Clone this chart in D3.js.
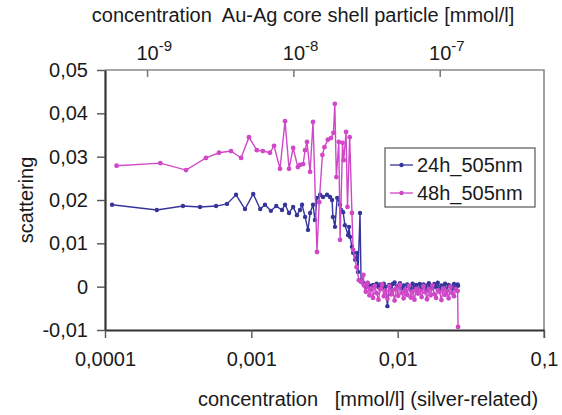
<!DOCTYPE html>
<html><head><meta charset="utf-8">
<script src="https://cdn.jsdelivr.net/npm/d3@7/dist/d3.min.js"></script>
<style>
body{margin:0;background:#fff;}
text{font-family:"Liberation Sans",Arial,sans-serif;fill:#1a1a1a;}
</style></head>
<body><svg id="c" width="562" height="415"></svg>
<script>
// ---- data ----
const xTickValues = [0.0001, 0.001, 0.01, 0.1];
const xTickLabels = ["0,0001", "0,001", "0,01", "0,1"];
const yTickValues = [-0.01, 0, 0.01, 0.02, 0.03, 0.04, 0.05];
const yTickLabels = ["-0,01", "0", "0,01", "0,02", "0,03", "0,04", "0,05"];
const topDomain = [5.16e-10, 5.16e-7];
const topTickValues = [1e-9, 1e-8, 1e-7];
const topTickExps = ["-9", "-8", "-7"];
const seriesNames = ["24h_505nm", "48h_505nm"];

// shared concentrations of the plateau region (mmol/l)
const xPlateau = [5.89e-3,6.06e-3,6.23e-3,6.41e-3,6.60e-3,6.79e-3,6.98e-3,7.18e-3,7.39e-3,7.60e-3,
  7.82e-3,8.04e-3,8.27e-3,8.51e-3,8.76e-3,9.01e-3,9.27e-3,9.53e-3,9.81e-3,1.009e-2,
  1.038e-2,1.068e-2,1.098e-2,1.130e-2,1.162e-2,1.196e-2,1.230e-2,1.265e-2,1.302e-2,1.339e-2,
  1.378e-2,1.417e-2,1.458e-2,1.500e-2,1.543e-2,1.587e-2,1.633e-2,1.680e-2,1.728e-2,1.778e-2,
  1.829e-2,1.881e-2,1.935e-2,1.991e-2,2.048e-2,2.107e-2,2.167e-2,2.230e-2,2.294e-2,2.359e-2,
  2.427e-2,2.497e-2,2.569e-2,2.587e-2];

const x24head = [1.117e-4,2.26e-4,3.41e-4,4.46e-4,5.74e-4,6.82e-4,7.86e-4,9.05e-4,1.03e-3,1.15e-3,1.24e-3,1.36e-3,1.48e-3,1.62e-3,1.70e-3,1.81e-3,1.93e-3,2.05e-3,2.15e-3,
  2.22e-3,2.33e-3,2.44e-3,2.52e-3,2.64e-3,2.72e-3,2.81e-3,2.95e-3,3.09e-3,3.29e-3,3.45e-3,3.56e-3,3.61e-3,3.73e-3,3.86e-3,4.04e-3,4.11e-3,4.24e-3,4.36e-3,4.58e-3,4.65e-3,4.73e-3,4.87e-3,4.96e-3,5.12e-3,5.27e-3,5.36e-3,5.53e-3,5.62e-3,5.80e-3];
const y24head = [0.0189,0.0177,0.0186,0.0184,0.0186,0.0191,0.0212,0.0179,0.0214,0.0179,0.0189,0.0175,0.0186,0.0177,0.0189,0.0170,0.0184,0.0165,0.0177,
  0.0189,0.0161,0.0131,0.0170,0.0189,0.0154,0.0205,0.0212,0.0207,0.0212,0.0207,0.0200,0.0161,0.0138,0.0205,0.0189,0.0177,0.0172,0.0142,0.0119,0.0138,0.0115,0.0092,0.0078,0.0062,0.0078,0.0034,0.0170,0.0015,0.0009];
const y24plateau = [0.0006,-0.0002,0.0009,0.0003,-0.0006,0.0004,0.0001,0.0007,-0.0001,0.0005,
  -0.0003,0.0007,0.0000,-0.0045,0.0004,-0.0002,0.0006,0.0010,-0.0005,0.0002,
  0.0008,-0.0004,0.0003,-0.0009,0.0005,0.0001,-0.0006,0.0007,-0.0002,0.0004,
  -0.0010,0.0006,-0.0003,0.0005,0.0002,-0.0007,0.0008,0.0000,-0.0004,0.0006,
  -0.0001,0.0009,-0.0006,0.0003,-0.0002,0.0007,-0.0008,0.0004,0.0001,-0.0005,
  0.0006,-0.0003,0.0005,0.0002];

const x48head = [1.20e-4,2.39e-4,3.58e-4,4.90e-4,6.01e-4,7.26e-4,8.51e-4,9.64e-4,1.09e-3,1.20e-3,1.34e-3,1.43e-3,1.57e-3,1.70e-3,1.81e-3,1.93e-3,2.08e-3,
  2.15e-3,2.26e-3,2.33e-3,2.40e-3,2.52e-3,2.64e-3,2.81e-3,2.91e-3,3.06e-3,3.16e-3,3.33e-3,3.50e-3,3.64e-3,3.72e-3,3.81e-3,3.96e-3,4.04e-3,4.20e-3,4.28e-3,4.44e-3,4.54e-3,4.70e-3,4.87e-3,4.96e-3,5.24e-3,5.43e-3,5.62e-3,5.83e-3];
const y48head = [0.0279,0.0285,0.0269,0.0297,0.0309,0.0313,0.0297,0.0345,0.0315,0.0313,0.0309,0.0325,0.0272,0.0382,0.0272,0.0320,0.0276,
  0.0281,0.0283,0.0315,0.0334,0.0265,0.0380,0.0080,0.0195,0.0304,0.0322,0.0339,0.0343,0.0355,0.0422,0.0253,0.0334,0.0108,0.0332,0.0292,0.0357,0.0184,0.0345,0.0170,0.0085,0.0045,0.0015,0.0011,0.0027];
const y48plateau = [0.0003,-0.0012,0.0008,-0.0020,-0.0004,-0.0026,0.0002,-0.0015,-0.0030,-0.0006,
  0.0005,-0.0022,-0.0010,-0.0028,0.0001,-0.0018,-0.0008,-0.0032,-0.0003,-0.0021,
  0.0004,-0.0014,-0.0027,-0.0007,-0.0019,0.0002,-0.0025,-0.0011,-0.0030,-0.0005,
  -0.0016,-0.0009,-0.0024,0.0001,-0.0013,-0.0029,-0.0006,-0.0020,0.0003,-0.0017,
  -0.0026,-0.0008,-0.0012,-0.0031,-0.0004,-0.0019,-0.0010,-0.0027,0.0000,-0.0015,
  -0.0022,-0.0006,-0.0010,-0.0093];

// ---- layout ----
const L = 105, R = 544, T = 70, B = 330;
const colors = ["#35359c", "#d048c8"];
const svg = d3.select("#c");
const x = d3.scaleLog().domain([1e-4, 0.1]).range([L, R]);
const xt = d3.scaleLog().domain(topDomain).range([L, R]);
const y = d3.scaleLinear().domain([-0.01, 0.05]).range([B, T]);

// frame (top & right, gray)
svg.append("path").attr("d", `M${L},${T}H${R}V${B + 8}`).attr("fill", "none").attr("stroke", "#8a8a8a").attr("stroke-width", 1.6);
// top ticks (inside)
const topAx = d3.axisBottom(xt).tickValues(topTickValues).tickSize(7).tickSizeOuter(0).tickFormat("");
const gt = svg.append("g").attr("transform", `translate(0,${T})`).call(topAx);
gt.select(".domain").remove();
gt.selectAll("line").attr("stroke", "#777").attr("stroke-width", 1.5);
topTickValues.forEach((v, i) => {
  const t = svg.append("text").attr("x", xt(v) - 10.6).attr("y", 60).attr("font-size", 20);
  t.append("tspan").text("10");
  t.append("tspan").attr("dy", -9).attr("font-size", 15).text(topTickExps[i]);
});

// series
function drawSeries(xs, ys, col, r) {
  const pts = xs.map((d, i) => [x(d), y(ys[i])]);
  svg.append("path").attr("d", d3.line()(pts)).attr("fill", "none").attr("stroke", col).attr("stroke-width", 1.4);
  svg.append("g").selectAll("circle").data(pts).join("circle")
    .attr("cx", d => d[0]).attr("cy", d => d[1]).attr("r", r).attr("fill", col);
}
drawSeries(x24head.concat(xPlateau), y24head.concat(y24plateau), colors[0], 2.2);
drawSeries(x48head.concat(xPlateau), y48head.concat(y48plateau), colors[1], 2.4);

// left axis
const fontFam = '"Liberation Sans",Arial,sans-serif';
const gl = svg.append("g").attr("transform", `translate(${L},0)`)
  .call(d3.axisLeft(y).tickValues(yTickValues).tickSize(8).tickSizeOuter(0).tickPadding(9).tickFormat((d, i) => yTickLabels[i]));
gl.select(".domain").attr("stroke", "#333").attr("stroke-width", 2.2);
gl.selectAll("line").attr("stroke", "#555").attr("stroke-width", 1.4);
gl.selectAll("text").attr("font-size", 20).attr("font-family", fontFam).attr("fill", "#1a1a1a");
// bottom axis
const gb = svg.append("g").attr("transform", `translate(0,${B})`)
  .call(d3.axisBottom(x).tickValues(xTickValues).tickSize(8).tickSizeOuter(0).tickPadding(14).tickFormat((d, i) => xTickLabels[i]));
gb.select(".domain").attr("stroke", "#333").attr("stroke-width", 2.2);
gb.selectAll("line").attr("stroke", "#555").attr("stroke-width", 1.4);
gb.selectAll("text").attr("font-size", 20).attr("font-family", fontFam).attr("fill", "#1a1a1a");

// titles
svg.append("text").attr("x", 303).attr("y", 22).attr("text-anchor", "middle").attr("font-size", 20)
  .attr("xml:space", "preserve").text("concentration  Au-Ag core shell particle [mmol/l]");
svg.append("text").attr("x", 368).attr("y", 406).attr("text-anchor", "middle").attr("font-size", 20)
  .attr("xml:space", "preserve").text("concentration   [mmol/l] (silver-related)");
svg.append("text").attr("transform", "translate(33,200) rotate(-90)").attr("text-anchor", "middle").attr("font-size", 20).text("scattering");

// legend
const lg = svg.append("g");
lg.append("rect").attr("x", 385).attr("y", 148).attr("width", 150).attr("height", 59).attr("fill", "#fff").attr("stroke", "#555").attr("stroke-width", 1.2);
seriesNames.forEach((n, i) => {
  const yy = 165 + i * 28;
  lg.append("line").attr("x1", 390).attr("x2", 413).attr("y1", yy).attr("y2", yy).attr("stroke", colors[i]).attr("stroke-width", 1.3);
  lg.append("circle").attr("cx", 401.5).attr("cy", yy).attr("r", 2.2).attr("fill", colors[i]);
  lg.append("text").attr("x", 417).attr("y", yy + 7).attr("font-size", 20).text(n);
});
</script></body></html>
